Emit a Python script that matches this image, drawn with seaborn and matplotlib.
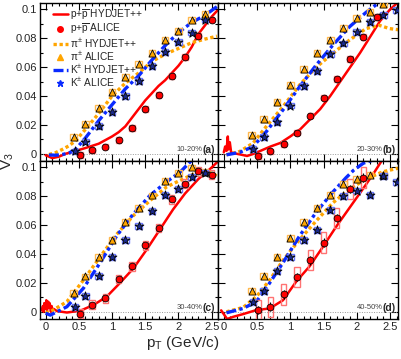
import numpy as np
import matplotlib
matplotlib.use("Agg")
import matplotlib.pyplot as plt
import seaborn as sns
from matplotlib.patches import Rectangle
from matplotlib.lines import Line2D
from matplotlib.ticker import MultipleLocator

nan = np.nan

# ALICE points (x positions shared by all centralities)
proton_x = [0.52, 0.7, 0.9, 1.1, 1.3, 1.5, 1.7, 1.9, 2.1, 2.3, 2.5]
pion_x = [0.42, 0.6, 0.8, 1.0, 1.2, 1.4, 1.6, 1.8, 2.0, 2.2, 2.4]
kaon_x = [0.44, 0.6, 0.8, 1.0, 1.2, 1.4, 1.6, 1.8, 2.0, 2.2, 2.4, 2.6]

proton_a = [-0.001, 0.0023, 0.005, 0.0097, 0.018, 0.031, 0.041, 0.054, 0.067, 0.0815, 0.093]
proton_b = [-0.0014, 0.0016, 0.007, 0.0147, 0.0265, 0.039, 0.052, 0.0657, 0.081, 0.095, nan]
proton_c = [-0.0012, 0.005, 0.0093, 0.0227, 0.0315, 0.046, 0.058, 0.078, 0.0888, 0.0974, 0.095]
proton_d = [0.0012, 0.0035, 0.012, 0.024, 0.0357, 0.048, 0.065, 0.085, 0.093, nan, nan]

pion_a = [0.0115, 0.0207, 0.032, 0.043, 0.0535, 0.062, 0.070, 0.079, 0.085, 0.0925, 0.097]
pion_b = [0.013, 0.024, 0.0357, 0.0477, 0.0587, 0.0696, 0.0792, 0.0875, 0.094, 0.098, 0.1035]
pion_c = [0.0128, 0.0245, 0.038, 0.050, 0.062, 0.072, 0.0806, 0.0907, 0.096, 0.100, 0.097]
pion_d = [0.0147, 0.025, 0.0378, 0.0514, 0.0624, 0.0717, 0.081, 0.0888, 0.092, 0.095, 0.0946]

kaon_a = [0.0016, 0.0085, 0.019, 0.029, 0.040, 0.0507, 0.061, 0.0707, 0.0777, 0.084, 0.093, nan]
kaon_b = [0.0032, 0.0115, 0.0217, 0.0334, 0.047, 0.0576, 0.069, 0.0765, 0.0845, 0.0915, 0.096, 0.0995]
kaon_c = [0.0035, 0.011, 0.025, 0.038, 0.050, 0.0596, 0.070, 0.081, 0.085, 0.0935, 0.0965, nan]
kaon_d = [0.007, 0.0145, 0.028, 0.038, 0.050, 0.0565, 0.0708, 0.080, 0.084, 0.081, 0.094, 0.090]

# HYDJET++ curves
red_a_x = [0.0, 0.1, 0.2, 0.3, 0.45, 0.6, 0.8, 1.0, 1.1, 1.2, 1.3, 1.4, 1.5, 1.6, 1.7, 1.8, 1.9, 2.0, 2.1, 2.2, 2.3, 2.4, 2.5, 2.58]
red_a_y = [-0.001, -0.003, -0.002, 0.0, 0.002, 0.004, 0.007, 0.012, 0.015, 0.019, 0.025, 0.031, 0.037, 0.042, 0.047, 0.051, 0.056, 0.061, 0.067, 0.074, 0.083, 0.089, 0.095, 0.099]
orange_a_x = [0.05, 0.15, 0.25, 0.35, 0.45, 0.6, 0.8, 1.0, 1.2, 1.4, 1.6, 1.8, 2.0, 2.2, 2.4, 2.58]
orange_a_y = [-0.0005, 0.0008, 0.003, 0.0055, 0.009, 0.017, 0.028, 0.040, 0.049, 0.056, 0.064, 0.069, 0.073, 0.077, 0.0795, 0.0815]
blue_a_x = [0.05, 0.15, 0.25, 0.35, 0.45, 0.6, 0.8, 1.0, 1.2, 1.4, 1.6, 1.8, 2.0, 2.2, 2.4, 2.58]
blue_a_y = [-0.0008, -0.001, -0.0005, 0.0005, 0.003, 0.011, 0.023, 0.034, 0.045, 0.054, 0.065, 0.075, 0.084, 0.091, 0.096, 0.102]

red_b_x = [0.0, 0.02, 0.04, 0.06, 0.07, 0.09, 0.11, 0.14, 0.25, 0.35, 0.45, 0.55, 0.7, 0.85, 1.0, 1.15, 1.3, 1.45, 1.6, 1.75, 1.9, 2.05, 2.2, 2.35, 2.5, 2.62]
red_b_y = [0.001, 0.005, 0.002, 0.012, 0.003, 0.008, 0.001, 0.0005, -0.0005, -0.0015, 0.0, 0.002, 0.005, 0.0075, 0.012, 0.017, 0.024, 0.031, 0.040, 0.050, 0.060, 0.070, 0.081, 0.092, 0.100, 0.105]
orange_b_x = [0.04, 0.24, 0.44, 0.64, 0.89, 1.14, 1.39, 1.64, 1.89, 2.14, 2.34, 2.49, 2.62]
orange_b_y = [-0.0007, 0.0016, 0.0074, 0.019, 0.0327, 0.0477, 0.060, 0.0696, 0.0788, 0.0868, 0.089, 0.0868, 0.086]
blue_b_x = [0.04, 0.24, 0.44, 0.64, 0.89, 1.14, 1.39, 1.64, 1.89, 2.14, 2.34]
blue_b_y = [-0.0007, 0.001, 0.005, 0.0154, 0.0304, 0.0465, 0.0615, 0.0753, 0.088, 0.098, 0.105]

red_c_x = [-0.06, -0.04, -0.03, -0.02, 0.0, 0.01, 0.02, 0.04, 0.05, 0.06, 0.08, 0.09, 0.1, 0.12, 0.17, 0.32, 0.52, 0.72, 0.92, 1.12, 1.32, 1.52, 1.72, 1.92, 2.1, 2.3, 2.5, 2.59]
red_c_y = [0.001, 0.004, 0.0, 0.006, 0.002, 0.008, 0.001, 0.007, 0.003, 0.006, 0.0, 0.004, 0.001, 0.002, 0.0005, -0.0005, 0.0007, 0.0047, 0.0105, 0.020, 0.030, 0.043, 0.057, 0.071, 0.082, 0.092, 0.100, 0.104]
orange_c_x = [0.0, 0.07, 0.32, 0.57, 0.82, 1.07, 1.32, 1.57, 1.82, 2.08, 2.33, 2.45, 2.59]
orange_c_y = [-0.0005, 0.0, 0.007, 0.022, 0.038, 0.0537, 0.0666, 0.077, 0.0865, 0.0923, 0.0975, 0.097, 0.094]
blue_c_x = [0.0, 0.07, 0.32, 0.57, 0.82, 1.07, 1.32, 1.57, 1.82, 2.03, 2.2]
blue_c_y = [-0.001, -0.0023, 0.0035, 0.0164, 0.034, 0.0526, 0.0678, 0.0806, 0.090, 0.097, 0.105]

red_d_x = [-0.04, 0.05, 0.14, 0.29, 0.49, 0.69, 0.89, 1.09, 1.29, 1.49, 1.69, 1.89, 2.09, 2.24, 2.38]
red_d_y = [0.001, -0.005, -0.0035, -0.0016, 0.0012, 0.0023, 0.008, 0.021, 0.0315, 0.045, 0.059, 0.072, 0.085, 0.095, 0.105]
orange_d_x = [0.04, 0.29, 0.49, 0.69, 0.89, 1.14, 1.39, 1.64, 1.89, 2.14, 2.39, 2.62]
orange_d_y = [0.0, 0.003, 0.0105, 0.022, 0.0357, 0.050, 0.063, 0.0755, 0.085, 0.092, 0.097, 0.0995]
blue_d_x = [0.04, 0.29, 0.49, 0.69, 0.89, 1.14, 1.39, 1.64, 1.84, 1.95, 2.1, 2.3]
blue_d_y = [-0.0007, 0.0023, 0.007, 0.020, 0.034, 0.0526, 0.069, 0.083, 0.093, 0.098, 0.103, 0.106]

centralities = ["10-20%", "20-30%", "30-40%", "40-50%"]
tags = ["(a)", "(b)", "(c)", "(d)"]
y_ticks = [0, 0.02, 0.04, 0.06, 0.08, 0.1]
y_labels = ["0", "0.02", "0.04", "0.06", "0.08", "0.1"]
x_ticks = [0, 0.5, 1, 1.5, 2, 2.5]
x_labels = ["0", "0.5", "1", "1.5", "2", "2.5"]

RED, ORANGE, BLUE = "#ff0000", "#ffa500", "#0a2aff"
RED_BOX, ORANGE_BOX, BLUE_BOX = "#ff7373", "#ffb84d", "#6a78ff"

sns.set_theme(style="ticks")
plt.rcParams["font.family"] = ["Liberation Sans", "DejaVu Sans"]
plt.rcParams["mathtext.fontset"] = "custom"
plt.rcParams["mathtext.rm"] = "Liberation Sans"
plt.rcParams["mathtext.it"] = "Liberation Sans:italic"
plt.rcParams["mathtext.bf"] = "Liberation Sans:bold"

fig = plt.figure(figsize=(4.01, 3.59), dpi=100)
L, M, R = 40 / 401, 217.5 / 401, 398 / 401
T, MY, B = 1 - 3 / 359, 1 - 161 / 359, 1 - 319 / 359
ax_a = fig.add_axes([L, MY, M - L, T - MY])
ax_b = fig.add_axes([M, MY, R - M, T - MY])
ax_c = fig.add_axes([L, B, M - L, MY - B])
ax_d = fig.add_axes([M, B, R - M, MY - B])
axes = [ax_a, ax_b, ax_c, ax_d]

panels = [
    (red_a_x, red_a_y, orange_a_x, orange_a_y, blue_a_x, blue_a_y, proton_a, pion_a, kaon_a, 0.004),
    (red_b_x, red_b_y, orange_b_x, orange_b_y, blue_b_x, blue_b_y, proton_b, pion_b, kaon_b, 0.004),
    (red_c_x, red_c_y, orange_c_x, orange_c_y, blue_c_x, blue_c_y, proton_c, pion_c, kaon_c, 0.006),
    (red_d_x, red_d_y, orange_d_x, orange_d_y, blue_d_x, blue_d_y, proton_d, pion_d, kaon_d, 0.014),
]


def add_points(ax, xs, ys, box_w, box_h, box_color, marker, size, face, err):
    xs = np.array(xs)
    ys = np.array(ys)
    ok = ~np.isnan(ys)
    for x, y in zip(xs[ok], ys[ok]):
        ax.add_patch(Rectangle((x - box_w / 2, y - box_h / 2), box_w, box_h,
                               fill=False, edgecolor=box_color, lw=1.0, zorder=3))
    ax.errorbar(xs[ok], ys[ok], yerr=err, fmt="none", ecolor="black",
                elinewidth=0.8, capsize=0, zorder=4)
    sns.scatterplot(x=xs[ok], y=ys[ok], marker=marker, s=size, color=face,
                    edgecolor="black", linewidth=0.6, ax=ax, zorder=5, legend=False)


for i, (ax, p) in enumerate(zip(axes, panels)):
    rx, ry, ox, oy, bx, by, pr, pi, ka, pbox = p
    ax.axhline(0, color="#999999", ls=(0, (1, 1.5)), lw=0.7, zorder=1)
    sns.lineplot(x=rx, y=ry, ax=ax, color=RED, lw=1.8, estimator=None, sort=False, zorder=2)
    sns.lineplot(x=ox, y=oy, ax=ax, color=ORANGE, lw=2.4, ls=(0, (1, 0.8)),
                 estimator=None, sort=False, zorder=2)
    sns.lineplot(x=bx, y=by, ax=ax, color=BLUE, lw=2.4, ls=(0, (3, 1, 1, 1)),
                 estimator=None, sort=False, zorder=2)
    add_points(ax, proton_x, pr, 0.08, pbox, RED_BOX, "o", 24, RED, 0.003 if i == 3 else 0.002)
    add_points(ax, pion_x, pi, 0.1, 0.004, ORANGE_BOX, "^", 26, ORANGE, 0.0015)
    add_points(ax, kaon_x, ka, 0.1, 0.004, BLUE_BOX, "*", 45, "#1a2a90", 0.0015)

    if i % 2 == 0:
        ax.set_xlim(-0.085, 2.588)
    else:
        ax.set_xlim(-0.095, 2.62)
    ax.set_ylim(-0.005, 0.1045)
    ax.set_xticks(x_ticks)
    ax.set_yticks(y_ticks)
    ax.xaxis.set_minor_locator(MultipleLocator(0.1))
    ax.yaxis.set_minor_locator(MultipleLocator(0.01))
    ax.set_xticklabels(x_labels if i >= 2 else [])
    ax.set_yticklabels(y_labels if i % 2 == 0 else [])
    ax.tick_params(which="both", direction="in", top=True, right=True,
                   labelsize=8, pad=2, width=0.8, color="black")
    ax.tick_params(which="major", length=5)
    ax.tick_params(which="minor", length=2.5)
    for sp in ax.spines.values():
        sp.set_linewidth(1.0)
        sp.set_color("black")
    ax.set_xlabel("")
    ax.set_ylabel("")
    ax.text(0.915, 0.07, centralities[i], transform=ax.transAxes, fontsize=5.5,
            color="#444444", ha="right", va="center")
    ax.text(0.985, 0.07, tags[i], transform=ax.transAxes, fontsize=7.5,
            fontweight="bold", ha="right", va="center")

handles = [
    Line2D([], [], color=RED, lw=1.8),
    Line2D([], [], ls="none", marker="o", ms=4, mfc=RED, mec=RED),
    Line2D([], [], color=ORANGE, lw=2.4, ls=(0, (1, 0.8))),
    Line2D([], [], ls="none", marker="^", ms=4, mfc=ORANGE, mec=ORANGE),
    Line2D([], [], color=BLUE, lw=2.4, ls=(0, (3, 1, 1, 1))),
    Line2D([], [], ls="none", marker="*", ms=5, mfc=BLUE, mec=BLUE),
]
labels = [
    r"p+$\overline{\rm p}$ HYDJET++",
    r"p+$\overline{\rm p}$ ALICE",
    r"π$^{\pm}$ HYDJET++",
    r"π$^{\pm}$ ALICE",
    r"K$^{\pm}$ HYDJET++",
    r"K$^{\pm}$ ALICE",
]
ax_a.legend(handles, labels, loc="upper left", bbox_to_anchor=(0.075, 0.975),
            frameon=False, fontsize=7.3, labelspacing=0.0, handlelength=1.4,
            handletextpad=0.2, borderpad=0.0, borderaxespad=0.0)

fig.text(0.02, 0.55, r"V$_3$", rotation=90, fontsize=11, ha="center", va="center")
fig.text(0.456, 0.045, r"p$_{\rm T}$ (GeV/c)", fontsize=11, ha="center", va="center")

fig.savefig("out.png", dpi=100)
